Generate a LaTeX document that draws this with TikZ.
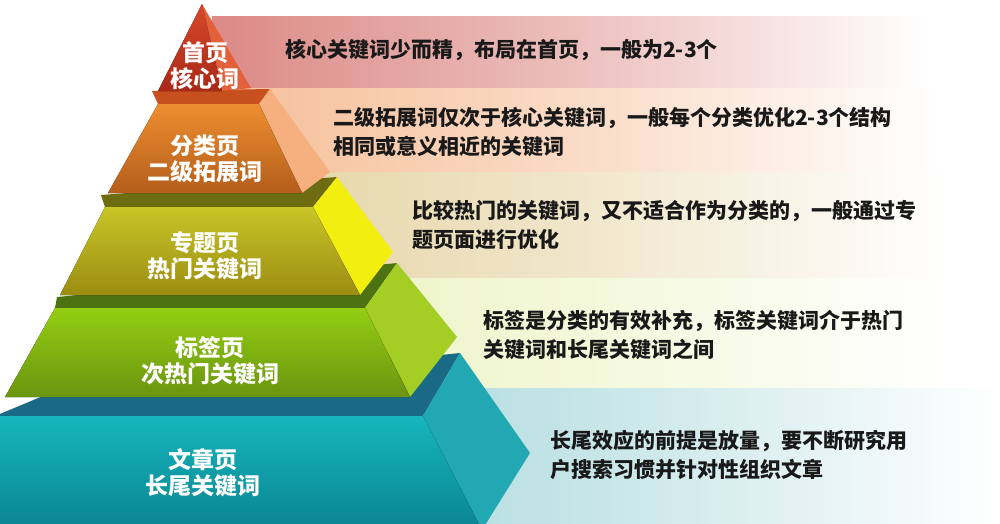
\documentclass[tikz,border=0pt]{standalone}
\usepackage{fontspec}
\newfontfamily\cjk{Noto Sans CJK SC}
\usepackage{xcolor}
% tier 1 (red)
\definecolor{redfront}{HTML}{D8482A}
\definecolor{reddark}{HTML}{A82818}
\definecolor{redside}{HTML}{E2603A}
\definecolor{redband}{HTML}{DC8A86}
% tier 2 (orange)
\definecolor{orgfront}{HTML}{EE8E30}
\definecolor{orgdark}{HTML}{B45E1C}
\definecolor{orgside}{HTML}{F6B080}
\definecolor{orgledge}{HTML}{C8501E}
\definecolor{orgband}{HTML}{F6BE98}
% tier 3 (olive)
\definecolor{olvfront}{HTML}{C8C628}
\definecolor{olvdark}{HTML}{9C8C12}
\definecolor{olvside}{HTML}{F2EE10}
\definecolor{olvledge}{HTML}{6E6C10}
\definecolor{olvband}{HTML}{E4D2A0}
% tier 4 (green)
\definecolor{grnfront}{HTML}{94CE12}
\definecolor{grndark}{HTML}{6A9410}
\definecolor{grnside}{HTML}{A4CE24}
\definecolor{grnledge}{HTML}{4C7212}
\definecolor{grnband}{HTML}{EAF2BC}
% tier 5 (teal)
\definecolor{tealfront}{HTML}{16B6BE}
\definecolor{tealdark}{HTML}{0A8490}
\definecolor{tealside}{HTML}{22A8B2}
\definecolor{tealledge}{HTML}{1A6A86}
\definecolor{tealband}{HTML}{9CD2D6}
\usepackage{tikz}
\tikzset{
    band/.style={
        left color=#1, right color=white,
        middle color=#1!55!white
    },
    frontface/.style 2 args={
        top color=#1, bottom color=#2
    },
    sideface/.style={fill=#1},
    ledge/.style={fill=#1},
    lbl/.style={
        text=white, align=center, inner sep=0pt,
        font=\cjk\bfseries\fontsize{23}{26}\selectfont
    },
    desc/.style={
        anchor=west, align=left, inner sep=0pt,
        text=black!90,
        font=\cjk\bfseries\fontsize{21}{29}\selectfont
    },
}

\begin{document}
\begin{tikzpicture}[x=1pt, y=-1pt]
    \useasboundingbox (0,0) rectangle (1000,523);
    \clip (0,0) rectangle (1000,523);
    \fill[white] (0,0) rectangle (1000,523);

    % Draw bands behind the pyramid
    \fill[band=redband] (212,16) rectangle (930,88);
    \fill[band=orgband] (212,88) rectangle (940,172);
    \fill[band=olvband] (212,172) rectangle (950,278);
    \fill[band=grnband] (212,278) rectangle (950,388);
    \fill[band=tealband] (212,388) rectangle (1000,523);

    % Draw bottom tier
    \fill[ledge=tealledge] (-5,416) -- (423,416) -- (460,353) -- (43,396) -- cycle;
    \fill[sideface=tealside] (423,416) -- (460,353) -- (530,453) -- (482,530) -- cycle;
    \fill[frontface={tealfront}{tealdark}] (-5,416) -- (423,416) -- (482,530) -- (-60,530) -- cycle;
    \node[lbl] (lbl5) at (203,473) {文章页\\长尾关键词};

    % Draw fourth tier
    \fill[ledge=grnledge] (55,308) -- (365,308) -- (397,263) -- (57,297) -- cycle;
    \fill[sideface=grnside] (365,308) -- (397,263) -- (457,337) -- (410,397) -- cycle;
    \fill[frontface={grnfront}{grndark}] (55,308) -- (365,308) -- (410,397) -- (5,397) -- cycle;
    \node[lbl] (lbl4) at (210,361) {标签页\\次热门关键词};

    % Draw third tier
    \fill[ledge=olvledge] (105,207) -- (313,207) -- (337,177) -- (101,195) -- cycle;
    \fill[sideface=olvside] (313,207) -- (337,177) -- (393,252) -- (360,295) -- cycle;
    \fill[frontface={olvfront}{olvdark}] (105,207) -- (313,207) -- (360,295) -- (60,295) -- cycle;
    \node[lbl] (lbl3) at (205,256) {专题页\\热门关键词};

    % Draw second tier
    \fill[ledge=orgledge] (158,104) -- (259,104) -- (270,89) -- (152,91) -- cycle;
    \fill[sideface=orgside] (259,104) -- (270,89) -- (330,172) -- (302,193) -- cycle;
    \fill[frontface={orgfront}{orgdark}] (158,104) -- (259,104) -- (302,193) -- (108,193) -- cycle;
    \node[lbl] (lbl2) at (205,159) {分类页\\二级拓展词};

    % Draw top tier
    \fill[sideface=redside] (202,4) -- (222,91) -- (251,88) -- cycle;
    \fill[frontface={redfront}{reddark}] (202,4) -- (222,91) -- (158,91) -- cycle;
    \node[lbl] (lbl1) at (205,66) {首页\\核心词};

    % Descriptions
    \node[desc] (desc1) at (285,50) {核心关键词少而精，布局在首页，一般为2-3个};
    \node[desc] (desc2) at (333,132) {二级拓展词仅次于核心关键词，一般每个分类优化2-3个结构\\相同或意义相近的关键词};
    \node[desc] (desc3) at (412,225) {比较热门的关键词，又不适合作为分类的，一般通过专\\题页面进行优化};
    \node[desc] (desc4) at (483,335) {标签是分类的有效补充，标签关键词介于热门\\关键词和长尾关键词之间};
    \node[desc] (desc5) at (550,455) {长尾效应的前提是放量，要不断研究用\\户搜索习惯并针对性组织文章};
\end{tikzpicture}
\end{document}
